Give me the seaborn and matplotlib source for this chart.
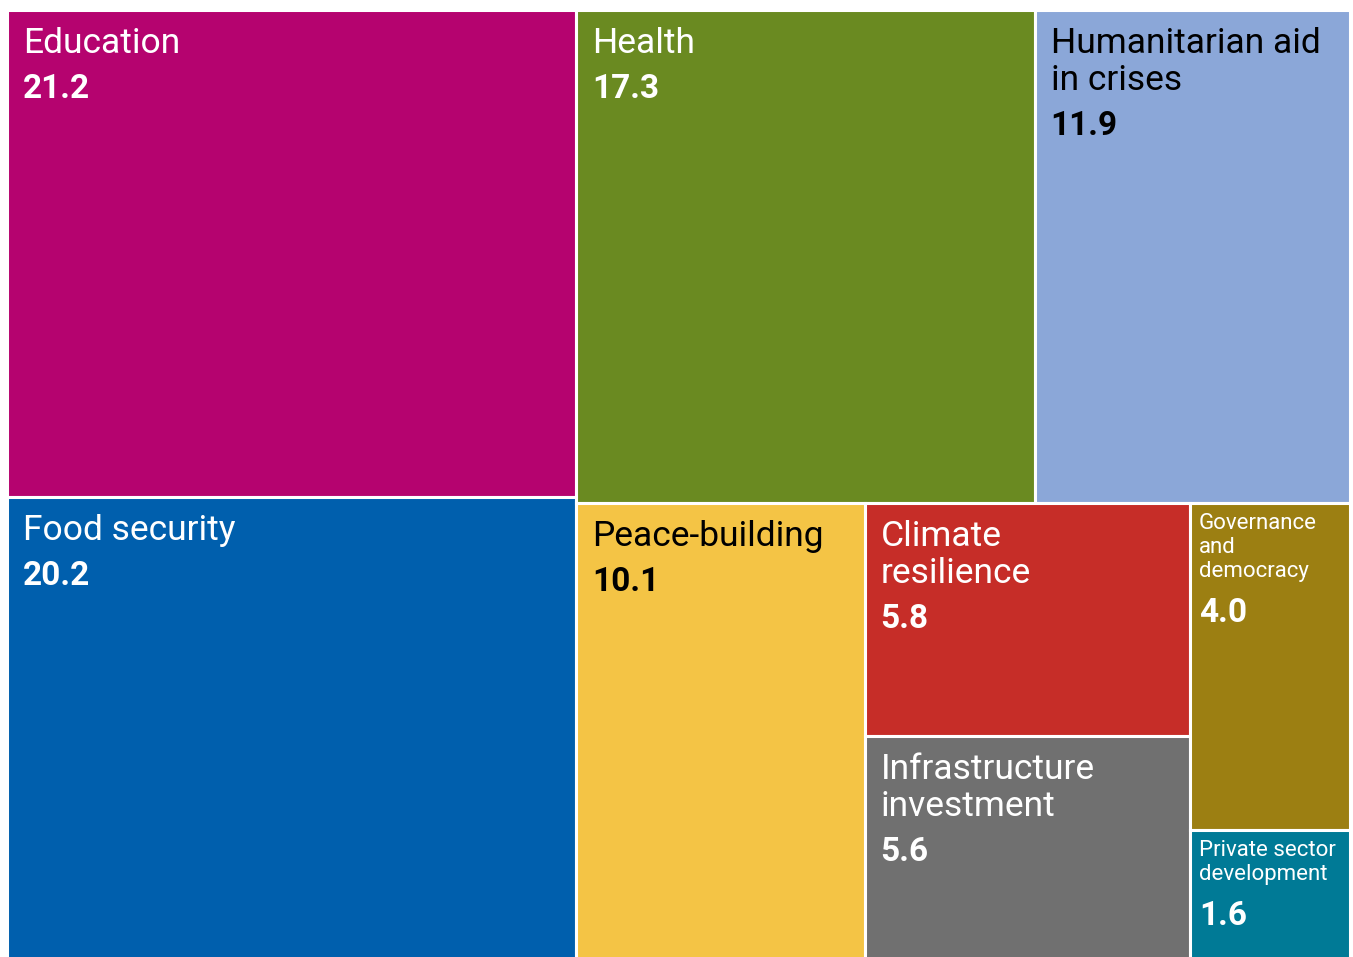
import matplotlib
matplotlib.use("Agg")
import matplotlib.pyplot as plt
from matplotlib.patches import Rectangle
import seaborn as sns

# ---- data ----
categories = [
    "Education",
    "Food security",
    "Health",
    "Humanitarian aid\nin crises",
    "Peace-building",
    "Climate\nresilience",
    "Infrastructure\ninvestment",
    "Governance\nand\ndemocracy",
    "Private sector\ndevelopment",
]
values = [21.2, 20.2, 17.3, 11.9, 10.1, 5.8, 5.6, 4.0, 1.6]
tile_colors = ["#B5036F", "#005FAD", "#6A8A21", "#8BA7D8", "#F4C445",
               "#C62D28", "#707070", "#9C7F12", "#007A96"]
text_colors = ["white", "white", "white", "black", "black",
               "white", "white", "white", "white"]

# ---- style ----
sns.set_theme(style="white")
plt.rcParams["font.family"] = ["Roboto", "DejaVu Sans"]

W_PX, H_PX = 1353, 957
# treemap area (bottom runs just past the image edge, as in the original)
X0, Y0, X1, Y1 = 7, 10, 1350, 961


def worst(row, side):
    s = sum(row)
    return max(max(side * side * r / (s * s), s * s / (side * side * r)) for r in row)


def squarify(areas, x, y, w, h):
    """Squarified treemap layout (Bruls et al.)"""
    rects = []
    areas = list(areas)
    while areas:
        short = min(w, h)
        row = [areas[0]]
        i = 1
        while i < len(areas) and worst(row + [areas[i]], short) <= worst(row, short):
            row.append(areas[i])
            i += 1
        areas = areas[i:]
        s = sum(row)
        if w >= h:
            cw = s / h
            yy = y
            for a in row:
                rects.append((x, yy, cw, a / cw))
                yy += a / cw
            x += cw
            w -= cw
        else:
            rh = s / w
            xx = x
            for a in row:
                rects.append((xx, y, a / rh, rh))
                xx += a / rh
            y += rh
            h -= rh
    return rects


total_area = (X1 - X0) * (Y1 - Y0)
scaled = [v / sum(values) * total_area for v in values]
rects = squarify(scaled, X0, Y0, X1 - X0, Y1 - Y0)

fig = plt.figure(figsize=(W_PX / 100, H_PX / 100), dpi=100)
ax = fig.add_axes([0, 0, 1, 1])
ax.set_xlim(0, W_PX)
ax.set_ylim(H_PX, 0)
ax.axis("off")

for (x, y, w, h), label, val, col, tcol in zip(rects, categories, values, tile_colors, text_colors):
    ax.add_patch(Rectangle((x, y), w, h, facecolor=col, edgecolor="white", linewidth=2.2))
    small = w < 200
    if small:
        pad, first, step, fs = 9, 26, 24, 16
    else:
        pad, first, step, fs = 16, 43, 37, 25.5
    lines = label.split("\n")
    yb = y + first
    for i, line in enumerate(lines):
        ax.text(x + pad, yb + i * step, line, color=tcol, fontsize=fs, va="baseline", ha="left")
    yb = yb + (len(lines) - 1) * step + 45
    ax.text(x + pad, yb, f"{val:.1f}", color=tcol, fontsize=24, fontweight="bold",
            va="baseline", ha="left")

fig.savefig("out.png", dpi=100, facecolor="white")
plt.close(fig)
